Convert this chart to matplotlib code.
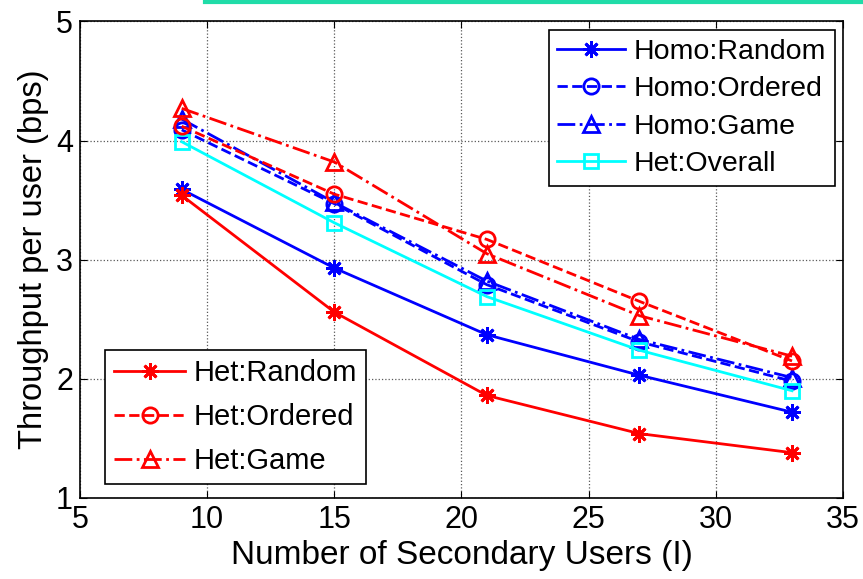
import matplotlib.pyplot as plt
import matplotlib.lines as mlines

plt.rcParams['font.family'] = ['Liberation Sans', 'DejaVu Sans']

# data
users = [9, 15, 21, 27, 33]
homo_random = [3.59, 2.93, 2.37, 2.03, 1.72]
homo_ordered = [4.09, 3.47, 2.79, 2.31, 1.98]
homo_game = [4.18, 3.48, 2.82, 2.33, 2.01]
het_overall = [3.99, 3.31, 2.69, 2.24, 1.90]
het_random = [3.54, 2.56, 1.86, 1.54, 1.38]
het_ordered = [4.12, 3.55, 3.17, 2.65, 2.15]
het_game = [4.27, 3.82, 3.05, 2.53, 2.19]

ticks_x = [5, 10, 15, 20, 25, 30, 35]
ticks_y = [1, 2, 3, 4, 5]

star = (8, 2, 0)

fig = plt.figure(figsize=(8.63, 5.79), dpi=100)
ax = fig.add_axes([0.0927, 0.140, 0.884, 0.823])

common = dict(lw=2, mew=2, mfc='none')
h1 = ax.plot(users, homo_random, '-', color='blue', marker=star, ms=12, label='Homo:Random', **common)[0]
h2 = ax.plot(users, homo_ordered, '--', color='blue', marker='o', ms=11, label='Homo:Ordered', **common)[0]
h3 = ax.plot(users, homo_game, '-.', color='blue', marker='^', ms=12, label='Homo:Game', **common)[0]
h4 = ax.plot(users, het_overall, '-', color='cyan', marker='s', ms=10, label='Het:Overall', **common)[0]
h5 = ax.plot(users, het_random, '-', color='red', marker=star, ms=12, label='Het:Random', **common)[0]
h6 = ax.plot(users, het_ordered, '--', color='red', marker='o', ms=11, label='Het:Ordered', **common)[0]
h7 = ax.plot(users, het_game, '-.', color='red', marker='^', ms=12, label='Het:Game', **common)[0]

ax.set_xlim(5, 35)
ax.set_ylim(1, 5)
ax.set_xticks(ticks_x)
ax.set_yticks(ticks_y)
ax.tick_params(direction='in', top=True, right=True, labelsize=22, length=5, pad=5)
ax.grid(True, linestyle=':', color='0.35', lw=0.9)
for s in ax.spines.values():
    s.set_linewidth(1.2)
ax.set_xlabel('Number of Secondary Users (I)', fontsize=24, labelpad=4)
ax.set_ylabel('Throughput per user (bps)', fontsize=23.5, labelpad=5)

leg_kw = dict(fancybox=False, edgecolor='black', framealpha=1,
              borderpad=0.3, handletextpad=0.3, borderaxespad=0)
leg1 = ax.legend(handles=[h1, h2, h3, h4], loc='upper right',
                 bbox_to_anchor=(0.9895, 0.981), fontsize=20.5, handlelength=2.4,
                 labelspacing=0.4, **leg_kw)
leg1.get_frame().set_linewidth(1.2)
ax.add_artist(leg1)
leg2 = ax.legend(handles=[h5, h6, h7], loc='lower left',
                 bbox_to_anchor=(0.0328, 0.0293), fontsize=21, handlelength=2.45,
                 labelspacing=0.55, **leg_kw)
leg2.get_frame().set_linewidth(1.2)

# teal strip at the top of the screenshot
fig.add_artist(mlines.Line2D([205 / 863, 1.0], [0.997, 0.997], color='#20dca8', lw=3))

fig.savefig('out.png', dpi=100)
